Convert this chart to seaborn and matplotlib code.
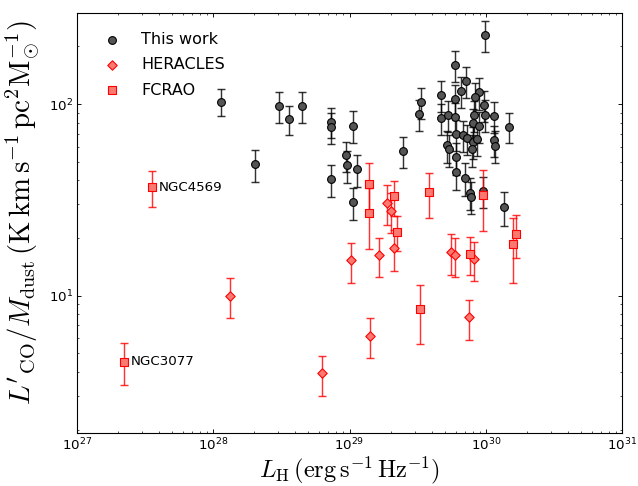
import numpy as np
import pandas as pd
import matplotlib
matplotlib.use("Agg")
import matplotlib.pyplot as plt
import seaborn as sns

# ---------------- data ----------------
# This work
this_lh = [1.135e28, 2.04e28, 3.04e28, 3.58e28, 4.46e28, 7.36e28, 7.28e28, 1.067e29,
           7.36e28, 9.42e28, 9.64e28, 1.14e29, 1.067e29, 9.93e29, 5.94e29, 7.13e29,
           6.58e29, 8.97e29, 3.33e29, 3.22e29, 4.72e29, 4.72e29, 5.98e29, 5.28e29,
           5.98e29, 8.30e29, 9.77e29, 8.15e29, 9.82e29, 1.143e30, 1.48e30, 8.11e29,
           8.91e29, 6.08e29, 6.81e29, 7.28e29, 8.05e29, 8.63e29, 1.143e30, 1.175e30,
           5.16e29, 5.41e29, 7.93e29, 6.08e29, 6.08e29, 7.05e29, 7.66e29, 7.80e29,
           9.51e29, 1.36e30, 2.45e29]
this_ratio = [102.8, 48.6, 97.6, 83.8, 97.6, 81.0, 76.2, 77.0,
              40.6, 54.0, 47.9, 45.6, 30.8, 229.0, 159.7, 131.9,
              116.9, 115.0, 102.8, 88.7, 111.9, 84.2, 106.2, 87.4,
              85.9, 108.4, 98.8, 87.7, 88.0, 86.5, 76.2, 79.4,
              76.8, 69.8, 68.9, 66.2, 63.6, 65.7, 64.8, 60.6,
              60.9, 58.2, 58.2, 52.9, 44.1, 41.0, 34.5, 32.8,
              35.2, 28.9, 56.9]
this_err = [16.5, 9.2, 17.5, 14.5, 17.5, 14.6, 14.0, 14.5,
            7.7, 9.8, 9.0, 8.5, 5.9, 42.0, 30.0, 24.0,
            21.0, 21.5, 19.0, 16.5, 20.5, 15.5, 19.5, 16.0,
            16.0, 20.0, 18.0, 16.0, 16.5, 16.0, 13.5, 14.5,
            14.0, 13.0, 12.5, 12.0, 12.0, 12.0, 12.0, 11.5,
            11.5, 11.0, 11.0, 10.0, 8.5, 8.0, 6.5, 6.2,
            6.6, 5.8, 10.5]

# HERACLES
her_lh = [1.02e29, 1.65e29, 2.11e29, 1.87e29, 2.00e29, 1.41e29,
          5.53e29, 5.98e29, 8.20e29, 7.59e29, 6.25e28, 1.33e28]
her_ratio = [15.3, 16.3, 17.7, 30.5, 27.7, 6.17,
             16.9, 16.3, 15.5, 7.7, 3.94, 10.0]
her_err = [3.6, 3.8, 4.2, 7.2, 6.5, 1.45,
           4.0, 3.8, 3.6, 1.8, 0.93, 2.35]

# FCRAO
fc_lh = [1.39e29, 1.39e29, 2.13e29, 2.23e29, 3.85e29, 3.29e29,
         7.71e29, 9.55e29, 1.58e30, 1.67e30, 3.55e27, 2.22e27]
fc_ratio = [38.3, 27.1, 33.0, 21.6, 34.6, 8.5,
            16.6, 33.6, 18.6, 21.1, 36.9, 4.53]
fc_err = [11.1, 9.5, 6.9, 4.5, 9.3, 2.9,
          3.7, 11.8, 6.9, 5.3, 7.7, 1.1]
fc_names = ["", "", "", "", "", "", "", "", "", "", "NGC4569", "NGC3077"]

# ---------------- style ----------------
plt.rcParams.update({
    "font.family": ["DejaVu Sans"],
    "font.size": 12,
    "xtick.direction": "in", "ytick.direction": "in",
    "xtick.top": True, "ytick.right": True,
    "xtick.major.size": 4, "ytick.major.size": 4,
    "xtick.minor.size": 2, "ytick.minor.size": 2,
    "xtick.labelsize": 12, "ytick.labelsize": 12,
    "axes.linewidth": 1.0,
})

fig = plt.figure(figsize=(638 / 80, 486 / 80), dpi=80)
ax = fig.add_axes([77 / 638, 1 - 433 / 486, (622 - 77) / 638, (433 - 12.7) / 486])

df_this = pd.DataFrame({"LH": this_lh, "ratio": this_ratio, "err": this_err})
df_her = pd.DataFrame({"LH": her_lh, "ratio": her_ratio, "err": her_err})
df_fc = pd.DataFrame({"LH": fc_lh, "ratio": fc_ratio, "err": fc_err, "name": fc_names})

# error bars
ax.errorbar(df_this["LH"], df_this["ratio"], yerr=df_this["err"], fmt="none",
            ecolor="black", alpha=0.8, elinewidth=1.3, capsize=3.5, capthick=1.3, zorder=2)
ax.errorbar(df_her["LH"], df_her["ratio"], yerr=df_her["err"], fmt="none",
            ecolor="red", alpha=0.8, elinewidth=1.3, capsize=3.5, capthick=1.3, zorder=4)
ax.errorbar(df_fc["LH"], df_fc["ratio"], yerr=df_fc["err"], fmt="none",
            ecolor="red", alpha=0.8, elinewidth=1.3, capsize=3.5, capthick=1.3, zorder=4)

# markers
sns.scatterplot(data=df_this, x="LH", y="ratio", marker="o", s=7 ** 2,
                color="#555555", edgecolor="black", linewidth=1.0,
                label="This work", ax=ax, zorder=3)
sns.scatterplot(data=df_her, x="LH", y="ratio", marker="D", s=6 ** 2,
                color="#fa7a72", edgecolor="red", linewidth=1.0,
                label="HERACLES", ax=ax, zorder=5)
sns.scatterplot(data=df_fc, x="LH", y="ratio", marker="s", s=7 ** 2,
                color="#fa7a72", edgecolor="red", linewidth=1.0,
                label="FCRAO", ax=ax, zorder=5)

for _, r in df_fc.iterrows():
    if r["name"]:
        ax.annotate(r["name"], (r["LH"], r["ratio"]), xytext=(6, 0),
                    textcoords="offset points", va="center", ha="left", fontsize=12)

ax.set_xscale("log")
ax.set_yscale("log")
ax.set_xlim(1e27, 1e31)
ax.set_ylim(1.92, 300)

ax.set_xlabel(r"$L_{\rm H}\,({\rm erg\,s^{-1}\,Hz^{-1}})$", fontsize=22,
              math_fontfamily="cm", labelpad=1)
ax.set_ylabel(r"$L'_{\rm CO}/M_{\rm dust}\,({\rm K\,km\,s^{-1}\,pc^2M_{\odot}^{-1}})$",
              fontsize=26, math_fontfamily="cm")
ax.yaxis.set_label_coords(-0.062, 0.525)

ax.legend(loc="upper left", frameon=False, fontsize=14.4, scatterpoints=1,
          handletextpad=0.8, borderaxespad=0.8, labelspacing=0.65)

fig.savefig("out.png", dpi=80)
